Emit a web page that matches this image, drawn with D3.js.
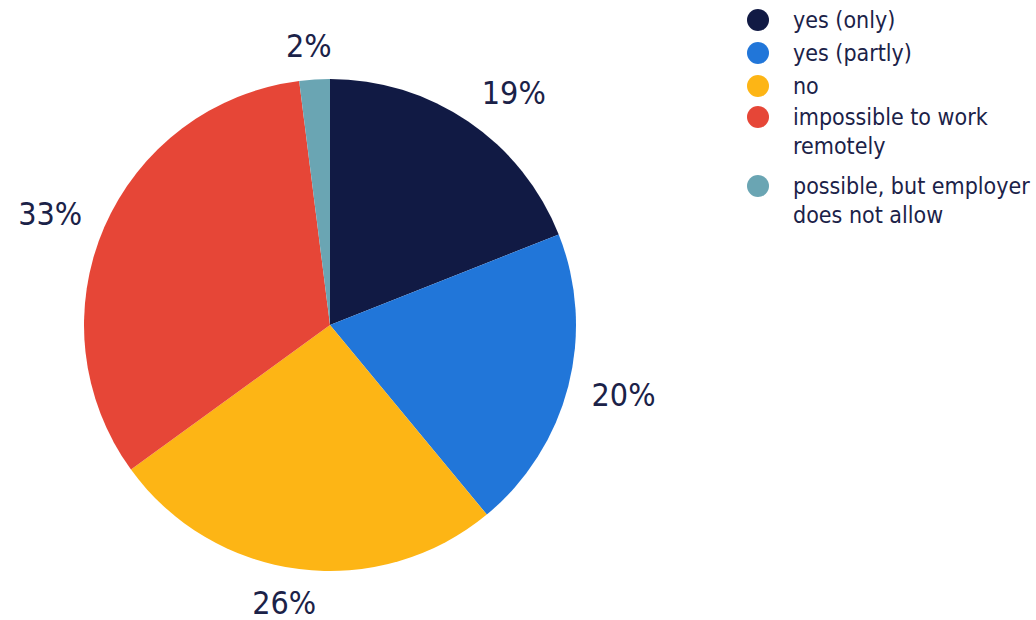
<!DOCTYPE html>
<html>
<head>
<meta charset="utf-8">
<script src="https://cdn.jsdelivr.net/npm/d3@7/dist/d3.min.js"></script>
<style>
  html, body { margin: 0; padding: 0; background: #fff; }
  svg { display: block; }
  text { font-family: "DejaVu Sans Condensed", "DejaVu Sans", sans-serif; fill: #1b2248; }
</style>
</head>
<body>
<svg id="chart" width="1036" height="620"></svg>
<script>
// Remote work answers, share of respondents (%)
const categories = ["yes (only)", "yes (partly)", "no", "impossible to work remotely", "possible, but employer does not allow"];
const legendLines = [["yes (only)"], ["yes (partly)"], ["no"], ["impossible to work", "remotely"], ["possible, but employer", "does not allow"]];
const values = [19, 20, 26, 33, 2];
const colors = ["#111a44", "#2176d9", "#fdb515", "#e64637", "#6aa5b3"];

const svg = d3.select("#chart");
const cx = 330, cy = 325, radius = 246, labelRadius = 270;

const color = d3.scaleOrdinal().domain(categories).range(colors);

const pie = d3.pie().sort(null).value(d => d.value);
const data = categories.map((c, i) => ({ name: c, value: values[i] }));
const arcs = pie(data);

const arc = d3.arc().innerRadius(0).outerRadius(radius);

const g = svg.append("g").attr("transform", `translate(${cx},${cy})`);

g.selectAll("path.slice")
  .data(arcs)
  .join("path")
  .attr("class", "slice")
  .attr("d", arc)
  .attr("fill", d => color(d.data.name));

// Percentage labels sit just outside the rim; the text box is pushed
// outward so that its inner edge touches the label circle.
g.selectAll("text.pct")
  .data(arcs)
  .join("text")
  .attr("class", "pct")
  .attr("text-anchor", "middle")
  .attr("dominant-baseline", "central")
  .style("font-size", "32px")
  .text(d => d.data.value + "%")
  .each(function (d) {
    const a = (d.startAngle + d.endAngle) / 2;
    const s = Math.sin(a), c = -Math.cos(a);
    const bb = this.getBBox();
    const hw = bb.width / 2, hh = 10;
    const px = labelRadius * s, py = labelRadius * c;
    const ox = hw * Math.sign(s) * Math.min(1, Math.abs(s) * 3);
    const oy = hh * c;
    d3.select(this).attr("transform", `translate(${px + ox},${py + oy})`);
  });

// Legend
const legend = svg.append("g").attr("transform", "translate(758,0)");
const rowY = [20, 53, 86, 117, 186];
const lineH = 29;
legendLines.forEach((lines, i) => {
  const row = legend.append("g").attr("transform", `translate(0,${rowY[i]})`);
  row.append("circle").attr("r", 11).attr("fill", colors[i]);
  const t = row.append("text")
    .attr("x", 35)
    .attr("dominant-baseline", "central")
    .style("font-size", "23px");
  lines.forEach((ln, j) => {
    t.append("tspan").attr("x", 35).attr("y", j * lineH).text(ln);
  });
});
</script>
</body>
</html>
